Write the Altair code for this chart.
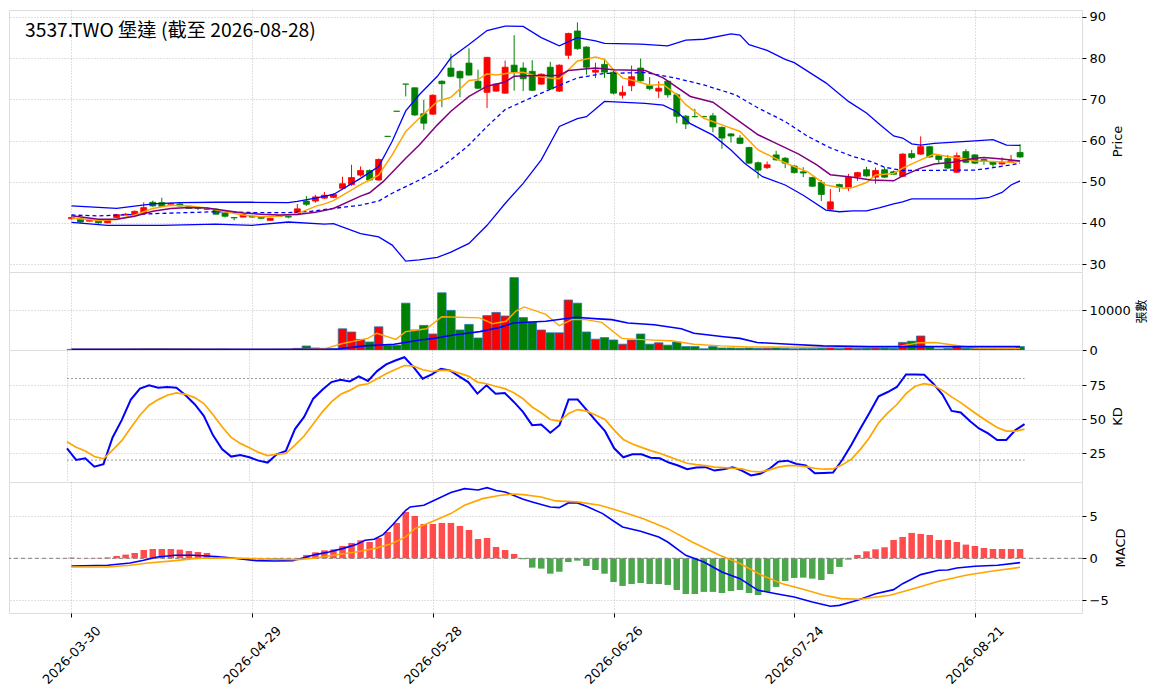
import altair as alt
import pandas as pd

TITLE = "3537.TWO 堡達 (截至 2026-08-28)"
tick_idx = [0, 20, 40, 60, 80, 100]
tick_labels = ["2026-03-30", "2026-04-29", "2026-05-28", "2026-06-26", "2026-07-24", "2026-08-21"]

opens = [41.0, 41.0, 40.4, 40.6, 40.0, 41.3, 41.9, 41.9, 42.3, 45.0,
         44.9, 44.5, 44.6, 44.0, 43.6, 43.4, 43.3, 42.4, 41.3, 41.4,
         41.6, 41.4, 40.6, 41.6, 41.6, 42.0, 45.3, 45.3, 46.0, 46.2,
         48.4, 49.3, 51.6, 52.7, 50.4, 61.0, 67.1, 73.7, 72.8, 66.5,
         66.4, 74.4, 77.6, 76.8, 78.8, 74.4, 71.7, 72.0, 71.5, 78.3,
         77.6, 76.8, 73.7, 77.8, 72.0, 80.7, 86.6, 82.7, 76.6, 78.5,
         76.6, 71.0, 73.3, 77.6, 73.3, 72.0, 74.4, 71.1, 65.9, 65.8,
         65.8, 66.0, 63.2, 61.6, 60.6, 58.3, 54.6, 53.4, 56.5, 55.7,
         53.8, 52.4, 51.0, 49.8, 43.3, 49.3, 48.5, 51.2, 52.9, 51.1,
         52.9, 52.4, 51.3, 56.8, 56.7, 58.5, 56.3, 55.6, 52.3, 57.3,
         56.5, 55.4, 54.8, 54.3, 54.7, 57.1]
highs = [41.6, 41.2, 40.9, 40.7, 40.8, 42.2, 42.4, 43.0, 45.0, 45.4,
         46.1, 44.9, 44.9, 44.1, 43.7, 43.5, 43.5, 42.5, 41.3, 42.1,
         41.7, 41.5, 41.2, 41.9, 41.7, 44.6, 46.5, 46.8, 47.5, 47.2,
         51.2, 54.1, 53.7, 53.0, 55.6, 61.0, 67.1, 73.7, 72.9, 69.9,
         71.2, 74.6, 81.1, 77.0, 82.4, 77.2, 80.3, 73.9, 79.4, 85.6,
         79.0, 79.5, 76.3, 79.1, 78.5, 86.2, 88.7, 82.9, 78.9, 79.9,
         77.0, 73.3, 78.2, 79.9, 75.4, 74.4, 74.6, 71.5, 66.2, 67.7,
         66.0, 66.7, 63.4, 61.8, 61.3, 58.5, 54.9, 54.9, 57.5, 56.0,
         54.0, 53.5, 51.2, 50.4, 48.2, 49.5, 51.9, 52.4, 53.6, 53.4,
         53.5, 52.7, 56.9, 57.7, 61.0, 58.7, 56.5, 56.5, 57.1, 57.9,
         56.7, 55.6, 55.0, 55.9, 56.5, 59.1]
lows = [40.8, 40.0, 40.3, 39.8, 39.9, 41.2, 41.8, 41.8, 42.2, 43.9,
        43.9, 44.3, 44.0, 43.4, 43.1, 43.2, 42.0, 41.3, 40.6, 41.3,
        41.3, 41.0, 40.5, 41.5, 41.1, 41.9, 44.1, 44.9, 45.8, 46.0,
        48.2, 49.0, 51.2, 50.2, 50.3, 61.0, 67.1, 70.7, 66.0, 62.6,
        66.2, 68.1, 75.4, 70.5, 75.7, 72.5, 67.9, 71.8, 71.3, 72.1,
        72.0, 72.0, 73.5, 72.3, 71.8, 79.8, 82.0, 76.0, 75.2, 75.2,
        71.2, 70.2, 72.0, 74.3, 72.2, 70.3, 70.4, 64.2, 62.8, 65.6,
        65.6, 62.0, 58.0, 59.5, 59.1, 54.3, 50.8, 53.1, 55.1, 53.3,
        52.0, 51.1, 48.7, 45.3, 43.1, 47.5, 47.7, 50.2, 51.2, 49.5,
        50.9, 51.6, 51.1, 55.5, 56.5, 55.8, 54.4, 53.1, 52.1, 54.5,
        54.3, 54.1, 53.4, 54.1, 54.5, 55.8]
closes = [41.3, 40.2, 40.7, 40.0, 40.6, 42.0, 42.1, 42.8, 43.7, 44.1,
          44.0, 44.7, 44.1, 43.5, 43.5, 43.3, 42.1, 41.6, 41.2, 42.0,
          41.4, 41.1, 41.1, 41.7, 41.4, 43.4, 44.5, 46.3, 46.7, 46.9,
          49.5, 51.0, 52.7, 50.4, 55.4, 61.0, 67.1, 73.7, 66.2, 64.2,
          71.0, 73.8, 75.6, 75.2, 75.9, 72.7, 80.2, 73.7, 77.8, 76.6,
          75.0, 72.2, 76.1, 72.5, 78.3, 86.0, 82.3, 77.8, 77.1, 76.6,
          71.5, 71.7, 75.5, 74.5, 72.6, 72.7, 71.1, 65.9, 64.0, 65.8,
          65.8, 63.3, 60.6, 61.1, 59.3, 54.5, 52.8, 54.1, 55.3, 54.5,
          52.2, 52.1, 48.9, 46.9, 45.1, 48.6, 51.1, 52.2, 51.4, 52.7,
          51.1, 51.8, 56.7, 55.9, 58.5, 56.0, 55.4, 53.3, 56.3, 54.7,
          54.5, 54.9, 54.2, 54.7, 55.1, 56.0]
volumes = [150, 120, 100, 110, 90, 130, 160, 200, 260, 300,
           280, 240, 200, 180, 150, 130, 160, 180, 140, 120,
           110, 100, 90, 130, 120, 400, 1000, 500, 400, 350,
           5300, 4500, 2650, 2000, 5800, 1200, 1200, 11700, 5000, 6150,
           4000, 14300, 9900, 5000, 6400, 3000, 8600, 9400, 8500, 18100,
           8100, 7000, 5000, 4300, 4300, 12500, 11700, 4500, 2700, 3100,
           2500, 1450, 2500, 4000, 1450, 1800, 1200, 2000, 850, 850,
           300, 850, 500, 500, 450, 500, 400, 450, 500, 400,
           300, 350, 350, 450, 600, 350, 650, 400, 450, 500,
           500, 400, 1900, 2200, 3500, 700, 250, 400, 850, 450,
           400, 300, 350, 300, 300, 850]

k_vals = [28.7, 20.1, 21.3, 15.2, 17.0, 36.7, 49.4, 64.5, 72.6, 75.0,
          73.3, 73.8, 73.3, 67.7, 61.1, 52.6, 38.4, 28.2, 22.6, 23.8,
          22.1, 19.6, 18.2, 24.3, 26.7, 42.8, 51.8, 65.2, 71.8, 77.4,
          79.1, 77.9, 81.6, 78.2, 85.5, 90.4, 93.3, 95.7, 88.4, 79.9,
          83.0, 87.2, 86.0, 81.6, 77.4, 68.9, 75.0, 68.9, 69.4, 62.8,
          55.5, 45.7, 46.2, 40.1, 45.7, 64.5, 64.5, 56.7, 48.9, 41.3,
          28.7, 22.1, 24.3, 24.3, 21.8, 21.3, 18.2, 16.0, 13.3, 14.5,
          14.8, 12.3, 13.3, 14.8, 12.3, 8.7, 9.9, 13.5, 18.9, 19.6,
          17.2, 16.0, 10.4, 10.6, 10.9, 20.1, 31.1, 43.3, 54.8, 67.0,
          70.1, 73.8, 83.0, 83.0, 82.8, 76.2, 68.2, 56.2, 55.0, 48.7,
          43.3, 39.6, 34.8, 34.8, 42.1, 46.5]
d_vals = [33.5, 29.4, 26.7, 22.6, 20.9, 27.4, 34.3, 43.8, 53.0, 60.4,
          64.5, 67.7, 69.4, 68.4, 66.0, 61.6, 53.5, 44.5, 36.7, 32.3,
          29.1, 25.7, 23.3, 24.3, 25.0, 31.1, 37.7, 46.5, 55.5, 62.8,
          68.4, 71.3, 75.0, 76.2, 79.9, 83.5, 86.7, 89.6, 89.1, 86.5,
          85.2, 86.0, 86.0, 84.0, 81.8, 77.4, 76.2, 74.3, 72.6, 69.6,
          65.2, 59.1, 54.8, 49.9, 48.7, 54.3, 57.2, 56.0, 53.0, 49.9,
          42.1, 35.2, 31.8, 29.4, 27.0, 25.0, 22.6, 20.1, 17.7, 16.7,
          16.0, 14.8, 14.5, 14.0, 13.5, 11.8, 11.3, 12.8, 14.8, 16.0,
          16.0, 15.2, 14.0, 13.3, 13.5, 16.5, 20.6, 27.9, 36.7, 47.4,
          54.8, 60.9, 68.9, 74.3, 76.2, 75.0, 71.3, 66.5, 62.3, 57.4,
          52.6, 48.2, 44.0, 41.3, 41.3, 42.8]
kd_levels = [20, 80]

osc = [0.08, 0.0, 0.02, 0.05, 0.1, 0.28, 0.44, 0.63, 0.99, 1.11,
       1.11, 1.11, 1.03, 0.87, 0.75, 0.63, 0.3, 0.15, 0.05, -0.1,
       -0.15, -0.18, -0.15, -0.12, -0.05, 0.02, 0.40, 0.71, 0.95, 1.07,
       1.47, 1.83, 2.14, 1.94, 2.42, 3.13, 4.21, 5.52, 5.04, 4.09,
       4.09, 4.21, 4.21, 3.85, 3.37, 2.30, 2.42, 1.35, 0.99, 0.52,
       -0.12, -1.11, -1.23, -1.83, -1.60, -0.44, -0.28, -0.91, -1.39, -1.83,
       -2.82, -3.29, -3.06, -2.94, -3.06, -3.06, -3.17, -3.77, -4.25, -4.25,
       -4.0, -4.0, -4.13, -3.89, -3.77, -4.13, -4.37, -4.0, -3.41, -2.70,
       -2.34, -2.30, -2.42, -2.58, -1.87, -1.03, -0.16, 0.40, 0.83, 1.07,
       1.31, 2.18, 2.54, 3.02, 2.90, 2.78, 2.18, 2.18, 1.94, 1.63,
       1.47, 1.23, 1.11, 1.11, 1.11, 1.11]

dif_i = [0, 4, 6.5, 8, 9.5, 11.5, 13.5, 15, 17, 19, 20.5, 22.5, 24.5, 25.5, 27, 28.5, 30, 31.5,
         32.5, 33.5, 34.5, 35.5, 37, 37.5, 39, 40, 42, 43.5, 45, 46, 47, 48, 50, 51,
         53, 54, 55, 56, 57, 58.8, 60, 61, 63, 65, 66, 68, 70, 72, 74, 76, 78, 80, 82,
         84, 85, 87, 89, 91, 92, 94, 96, 97, 98, 100, 102.5, 105]
dif_v = [-0.91, -0.83, -0.56, -0.24, 0.16, 0.36, 0.36, 0.28, 0.12, -0.12, -0.28, -0.32, -0.28, 0.0,
         0.44, 0.75, 1.15, 1.63, 2.14, 2.26, 2.82, 3.93, 5.71, 6.11, 6.31, 6.83, 7.82, 8.29, 8.13,
         8.41, 8.06, 7.9, 7.02, 6.71, 6.11, 6.03, 6.59, 6.59, 6.19, 5.32, 4.44, 3.73, 3.21, 2.54,
         1.94, 0.36, -0.44, -1.63, -2.42, -3.81, -4.21, -4.60, -5.20, -5.71, -5.60, -5.0, -4.21,
         -3.73, -3.02, -1.94, -1.43, -1.39, -1.15, -0.95, -0.83, -0.52]
dea_i = [0, 4, 6.5, 8.5, 11.5, 13.5, 15, 19, 22.5, 25, 27, 29, 31.5, 33.5, 35.5, 37, 38, 40, 42,
         43.5, 45.5, 47.5, 49, 50, 52, 53.6, 56, 58.5, 61, 63.3, 66, 68.7, 71.75, 74, 76.4, 78.7,
         81, 83.3, 85.2, 87.2, 90.6, 92.6, 96, 99, 101.8, 105]
dea_v = [-1.03, -1.03, -0.83, -0.56, -0.28, -0.04, 0.04, 0.0, -0.12, -0.16, 0.04, 0.36, 0.75, 1.15,
         1.75, 2.54, 3.53, 4.4, 5.32, 6.31, 7.1, 7.5, 7.66, 7.58, 7.3, 6.83, 6.71, 6.31, 5.52, 4.72,
         3.53, 1.94, 0.36, -0.63, -2.02, -3.02, -3.69, -4.40, -4.80, -4.88, -4.40, -3.81, -2.74,
         -2.02, -1.55, -1.07]

bbu_i = [0, 5, 9, 12, 16, 20, 24, 25, 27, 29, 32, 34, 35.5, 37, 38.5, 40.5, 42, 44, 46, 48,
         50, 52, 54, 56, 58, 59, 63, 66, 68, 70, 73, 74, 75, 77, 79, 80, 83.5, 86, 88, 89.5,
         91, 92, 93, 94, 95.5, 100, 102, 103.5, 105]
bbu_v = [44.1, 43.5, 44.6, 44.9, 45.0, 45.0, 44.9, 45.2, 46.0, 46.9, 50.8, 53.7, 59.8, 67.2, 71.1,
         75.6, 80.1, 83.3, 86.7, 87.8, 87.7, 85.0, 83.0, 85.0, 84.2, 83.6, 83.4, 83.0, 84.4, 84.6,
         85.9, 85.6, 83.3, 81.9, 79.7, 78.9, 74.0, 69.5, 66.7, 63.8, 61.1, 60.6, 59.2, 58.9, 59.3,
         59.9, 60.2, 58.9, 58.8]
bbl_i = [0, 4, 10, 16, 20, 24, 28, 29, 32, 34, 35.5, 37, 38.5, 40.5, 42, 44, 46, 48, 50, 52,
         54, 56, 57, 59, 63.5, 65.5, 67, 68.5, 71, 73, 74.5, 76.5, 79, 81, 83.5, 85, 86.5, 88,
         89.5, 91, 92, 93, 95.5, 100, 101.5, 103, 104, 105]
bbl_v = [40.1, 39.4, 39.4, 39.7, 39.4, 40.2, 39.7, 39.8, 37.4, 36.6, 34.6, 30.7, 31.0, 31.6, 32.9,
         35.0, 39.4, 44.7, 49.6, 55.3, 63.4, 65.3, 65.8, 69.5, 69.0, 68.6, 67.0, 64.1, 61.3, 57.7,
         54.5, 51.2, 49.2, 46.7, 43.1, 42.7, 42.9, 42.9, 43.7, 44.6, 45.1, 45.8, 45.8, 45.8, 46.1,
         47.4, 49.2, 50.2]
bbm_i = [0, 3, 10, 16, 20, 24, 26.5, 29, 32, 34, 35.5, 37, 38.5, 40.5, 42, 44, 46, 48, 50, 52,
         54, 56, 59, 63.5, 67, 70, 73.5, 76, 79, 81.5, 84, 86.5, 88.5, 90, 92, 98, 100, 102, 104, 105]
bbm_v = [41.9, 41.7, 42.3, 42.7, 42.5, 42.5, 42.8, 43.5, 44.3, 45.3, 47.2, 48.8, 50.4, 52.8, 55.3,
         58.9, 63.4, 67.5, 69.5, 71.5, 73.4, 75.2, 76.3, 76.5, 75.1, 73.5, 71.1, 67.9, 64.6, 61.0,
         58.2, 56.1, 54.9, 53.5, 52.7, 52.8, 52.8, 53.4, 54.1, 54.5]
ma5_i = [0, 3, 5, 7, 9, 11, 13, 15, 17, 19, 21, 23, 25, 26, 27, 28, 29, 32, 33, 34, 35.5, 37,
         38.5, 40.5, 42, 44, 45, 46, 47, 48.5, 50, 51.5, 53, 54, 56, 58, 59, 60, 61, 62.5, 64,
         65.5, 67, 68, 70, 72, 74, 76, 77.5, 79.5, 81.5, 83.5, 85.5, 86.5, 88, 89, 91, 92, 94,
         95.5, 97, 98.5, 100, 102, 104, 105]
ma5_v = [41.2, 40.6, 40.8, 41.9, 43.5, 44.3, 44.1, 43.6, 42.7, 41.9, 41.5, 41.6, 42.3, 43.1, 44.0,
         44.6, 45.4, 49.3, 50.4, 51.6, 56.5, 62.2, 65.4, 69.5, 70.5, 74.6, 74.8, 76.2, 75.9, 76.4,
         76.6, 75.6, 75.2, 75.0, 79.3, 80.3, 79.7, 77.2, 75.2, 74.4, 73.4, 73.6, 71.1, 68.7, 65.4,
         63.8, 62.2, 57.7, 56.1, 54.1, 52.4, 49.2, 48.4, 48.6, 49.8, 51.6, 52.0, 53.3, 55.3, 56.7,
         56.1, 55.7, 55.0, 54.9, 54.7, 55.0]
ma10_i = [0, 3, 5, 7, 9, 11, 13, 15, 17, 19, 21, 23, 25, 27, 29, 32, 33, 34.5, 37, 38.5, 40.5,
          42, 44, 46, 48, 49, 51.5, 54, 55, 58, 60, 63.5, 65.5, 68.5, 71, 73.5, 76, 78, 80.5,
          82.5, 84, 86.5, 88.5, 91, 92, 94, 95.5, 97.5, 100, 101, 103, 105]
ma10_v = [41.7, 40.9, 40.9, 41.6, 42.8, 43.5, 43.7, 43.6, 43.0, 42.4, 42.1, 41.9, 42.0, 42.6, 43.5,
          46.5, 47.3, 50.0, 55.7, 58.9, 63.8, 67.1, 70.7, 73.2, 74.2, 75.6, 75.8, 75.8, 77.0, 77.6,
          77.2, 77.0, 75.2, 70.7, 69.3, 65.3, 61.4, 59.3, 56.7, 54.1, 51.7, 51.1, 50.4, 50.2, 51.4,
          53.3, 54.3, 54.7, 55.7, 55.9, 55.5, 55.0]
vma5_i = [0, 5, 10, 15, 20, 25, 28, 30, 32.8, 33.8, 35.9, 37, 39.3, 41, 45.2, 46.6, 48.1, 49.2,
          50.1, 52.5, 54, 55.4, 56.9, 58.7, 60.9, 62.7, 64.5, 66.4, 68.9, 71.9, 75, 84, 91.2,
          93.8, 95.6, 97.8, 100, 105]
vma5_v = [180, 200, 260, 220, 160, 170, 300, 1620, 2900, 4190, 2650, 4600, 5300, 8300, 8030, 6580,
          7180, 9740, 10770, 8900, 6070, 7600, 7600, 6900, 2900, 2650, 2480, 2300, 1450, 1030, 770,
          680, 770, 1800, 1880, 1200, 510, 430]
vma20_i = [0, 25, 29.5, 32.4, 35.7, 38.6, 40.1, 42.3, 45.2, 47.4, 48.9, 52.5, 55.8, 58.3, 59.8,
           61.6, 64.5, 67.5, 68.9, 72.2, 74, 75.9, 79.5, 83.2, 88.3, 105]
vma20_v = [150, 180, 250, 1030, 1450, 2480, 2900, 3760, 4600, 5640, 6750, 7180, 8200, 7780, 7600,
           6750, 6300, 5300, 4190, 3330, 2900, 1880, 1450, 1030, 850, 850]

UP, DOWN = "#ff0000", "#008000"
n = len(closes)
idx = list(range(n))
df = pd.DataFrame({"i": idx, "O": opens, "H": highs, "L": lows, "C": closes, "V": volumes,
                   "K": k_vals, "D": d_vals, "OSC": osc})
df["dir"] = ["up" if c > o else "down" for o, c in zip(opens, closes)]
df["hdir"] = ["pos" if h >= 0 else "neg" for h in osc]

XDOM = [-6.36, 111.3]
W = 1073
LABEL_FONT = "DejaVu Sans"
CJK = "Noto Sans CJK TC"
grid_kw = dict(grid=True, gridColor="#b0b0b0", gridDash=[1, 2], gridWidth=0.8)
cscale = alt.Scale(domain=["up", "down"], range=[UP, DOWN])


def xaxis(show=False):
    if show:
        expr = "[" + ",".join("'%s'" % t for t in tick_labels) + "][round(datum.value / 20)]"
        return alt.Axis(values=tick_idx, labelExpr=expr, labelAngle=315, labelAlign="center",
                        labelBaseline="middle", labelPadding=38, tickSize=4, tickColor="black",
                        domain=False, labelFont=LABEL_FONT, labelFontSize=13, labelColor="black",
                        labelFlush=False, labelOverlap=False, title=None, **grid_kw)
    return alt.Axis(values=tick_idx, labels=False, ticks=False, domain=False, title=None, **grid_kw)


def xscale():
    return alt.Scale(domain=XDOM, nice=False, zero=False)


def xenc(show=False, field="i:Q"):
    return alt.X(field, scale=xscale(), axis=xaxis(show))


def yaxis(title, values, title_font=LABEL_FONT, title_size=13, **extra):
    return alt.Axis(orient="right", values=values, title=title, titleAngle=270,
                    titleBaseline="top", titleAlign="center",
                    titleFont=title_font, titleFontSize=title_size, titleFontWeight="normal",
                    titleColor="black", titlePadding=6, labelFont=LABEL_FONT, labelFontSize=13,
                    labelColor="black", tickColor="black", tickSize=4, labelPadding=3,
                    domain=False, **grid_kw, **extra)


def line(ii, vv, color, width, yscale, yax, dash=None, show=False):
    d = pd.DataFrame({"i": ii, "v": vv})
    kw = dict(color=color, strokeWidth=width)
    if dash:
        kw["strokeDash"] = dash
    return alt.Chart(d).mark_line(**kw).encode(x=xenc(show), y=alt.Y("v:Q", scale=yscale, axis=yax))


# ---- price panel
pscale = alt.Scale(domain=[28.06, 91.7], nice=False, zero=False)
pax = yaxis("Price", [30, 40, 50, 60, 70, 80, 90])
base = alt.Chart(df)
wick = base.mark_rule(strokeWidth=1).encode(
    x=xenc(), y=alt.Y("L:Q", scale=pscale, axis=pax), y2="H:Q",
    color=alt.Color("dir:N", scale=cscale, legend=None))
body = base.mark_bar(size=6, strokeWidth=0.8).encode(
    x=xenc(), y=alt.Y("O:Q", scale=pscale, axis=pax), y2="C:Q",
    color=alt.Color("dir:N", scale=cscale, legend=None),
    stroke=alt.Stroke("dir:N", scale=cscale, legend=None))
title_txt = alt.Chart(pd.DataFrame({"t": [TITLE]})).mark_text(
    align="left", baseline="middle", font=CJK, fontSize=19.3, color="black").encode(
    x=alt.value(16), y=alt.value(21), text="t:N")
price = alt.layer(
    wick, body,
    line(bbu_i, bbu_v, "#0000ff", 1.3, pscale, pax),
    line(bbl_i, bbl_v, "#0000ff", 1.3, pscale, pax),
    line(bbm_i, bbm_v, "#0000ff", 1.3, pscale, pax, dash=[4, 3]),
    line(ma5_i, ma5_v, "#ffa500", 1.5, pscale, pax),
    line(ma10_i, ma10_v, "#800080", 1.5, pscale, pax),
    title_txt,
).properties(width=W, height=262)

# ---- volume panel
vscale = alt.Scale(domain=[0, 19500], nice=False, zero=False)
vax = yaxis("張數", [0, 10000], title_font=CJK, title_size=12, format="d")
vbars = alt.Chart(df).mark_bar(size=8.5, stroke="#1f77b4", strokeWidth=0.8).encode(
    x=xenc(), y=alt.Y("V:Q", scale=vscale, axis=vax),
    color=alt.Color("dir:N", scale=cscale, legend=None))
vol = alt.layer(
    vbars,
    line(vma5_i, vma5_v, "#ffa500", 1.4, vscale, vax),
    line(vma20_i, vma20_v, "#0000ff", 1.6, vscale, vax),
).properties(width=W, height=78)

# ---- KD panel
kscale = alt.Scale(domain=[3.9, 101], nice=False, zero=False)
kax = yaxis("KD", [25, 50, 75])
lv = pd.DataFrame({"lvl": kd_levels, "x0": [idx[0]] * len(kd_levels), "x1": [idx[-1]] * len(kd_levels)})
kref = alt.Chart(lv).mark_rule(color="#999999", strokeDash=[2, 2], strokeWidth=1).encode(
    x=xenc(field="x0:Q"), x2="x1:Q", y=alt.Y("lvl:Q", scale=kscale, axis=kax))
kline = alt.Chart(df).mark_line(color="#0000ff", strokeWidth=2).encode(
    x=xenc(), y=alt.Y("K:Q", scale=kscale, axis=kax))
dline = alt.Chart(df).mark_line(color="#ffa500", strokeWidth=1.7).encode(
    x=xenc(), y=alt.Y("D:Q", scale=kscale, axis=kax))
kd = alt.layer(kref, kline, dline).properties(width=W, height=132)

# ---- MACD panel
mscale = alt.Scale(domain=[-6.51, 9.08], nice=False, zero=False)
max_ = yaxis("MACD", [-5, 0, 5], labelExpr="replace(datum.label, '-', '−')")
hscale = alt.Scale(domain=["pos", "neg"], range=[UP, DOWN])
hbars = alt.Chart(df).mark_bar(size=6.5, opacity=0.7).encode(
    x=xenc(True), y=alt.Y("OSC:Q", scale=mscale, axis=max_),
    color=alt.Color("hdir:N", scale=hscale, legend=None))
zero = alt.Chart(pd.DataFrame({"z": [0]})).mark_rule(color="gray", strokeDash=[4, 3], strokeWidth=1).encode(
    y=alt.Y("z:Q", scale=mscale, axis=max_))
macd = alt.layer(
    hbars, zero,
    line(dif_i, dif_v, "#0000ff", 1.6, mscale, max_, show=True),
    line(dea_i, dea_v, "#ffa500", 1.6, mscale, max_, show=True),
).properties(width=W, height=131)

chart = alt.vconcat(price, vol, kd, macd, spacing=0, bounds="flush").properties(
    padding={"left": 0, "top": 1, "right": 2, "bottom": 0}
).configure_view(stroke="black", strokeWidth=1).configure(background="white")

chart.save("out.html", embed_options={"renderer": "svg", "actions": False})
